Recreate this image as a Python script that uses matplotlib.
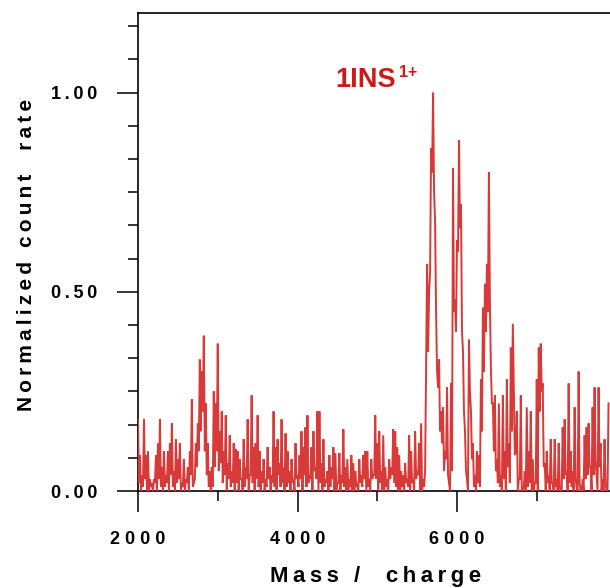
import numpy as np
import matplotlib
matplotlib.use('Agg')
import matplotlib.pyplot as plt
from matplotlib.ticker import FixedLocator, FixedFormatter

plt.rcParams['font.family'] = ['Liberation Sans', 'DejaVu Sans']
plt.rcParams['font.weight'] = 'bold'

# ---- data: spike maxima every 25 Da from 2000, minima read in between ----
mass_start = 2000
mass_step = 25
rate_peaks = [
    0.18, 0.09, 0.04, 0.18, 0.09, 0.10, 0.03, 0.02, 0.03, 0.09,
    0.12, 0.18, 0.06, 0.10, 0.04, 0.10, 0.12, 0.17, 0.05, 0.13,
    0.08, 0.12, 0.02, 0.08, 0.03, 0.06, 0.10, 0.23, 0.02, 0.12,
    0.17, 0.33, 0.30, 0.39, 0.22, 0.12, 0.05, 0.06, 0.25, 0.22,
    0.37, 0.15, 0.20, 0.10, 0.19, 0.07, 0.14, 0.05, 0.12, 0.105,
    0.10, 0.08, 0.03, 0.13, 0.06, 0.18, 0.04, 0.24, 0.11, 0.12,
    0.19, 0.10, 0.05, 0.08, 0.03, 0.11, 0.06, 0.04, 0.20, 0.11,
    0.13, 0.07, 0.18, 0.06, 0.145, 0.10, 0.05, 0.08, 0.03, 0.12,
    0.04, 0.09, 0.15, 0.11, 0.16, 0.19, 0.04, 0.11, 0.15, 0.06,
    0.20, 0.20, 0.07, 0.13, 0.03, 0.05, 0.09, 0.06, 0.11, 0.095,
    0.02, 0.095, 0.04, 0.155, 0.06, 0.08, 0.03, 0.09, 0.07, 0.05,
    0.02, 0.08, 0.04, 0.09, 0.10, 0.10, 0.03, 0.08, 0.04, 0.19,
    0.12, 0.15, 0.05, 0.14, 0.06, 0.03, 0.08, 0.06, 0.155, 0.15,
    0.11, 0.09, 0.05, 0.04, 0.07, 0.03, 0.14, 0.10, 0.03, 0.15,
    0.05, 0.12, 0.17, 0.03, 0.05, 0.57, 0.50, 0.86, 1.00, 0.68,
    0.30, 0.33, 0.20, 0.21, 0.10, 0.26, 0.02, 0.27, 0.81, 0.48,
    0.63, 0.88, 0.72, 0.35, 0.15, 0.03, 0.38, 0.20, 0.12, 0.04,
    0.10, 0.09, 0.28, 0.46, 0.52, 0.57, 0.80, 0.31, 0.22, 0.24,
    0.08, 0.22, 0.04, 0.24, 0.10, 0.28, 0.12, 0.36, 0.42, 0.09,
    0.20, 0.03, 0.24, 0.00, 0.05, 0.21, 0.10, 0.20, 0.08, 0.02,
    0.28, 0.36, 0.37, 0.27, 0.07, 0.10, 0.04, 0.13, 0.02, 0.13,
    0.03, 0.12, 0.00, 0.16, 0.18, 0.05, 0.27, 0.10, 0.05, 0.21,
    0.01, 0.30, 0.00, 0.03, 0.14, 0.16, 0.17, 0.06, 0.21, 0.26,
    0.04, 0.26, 0.12, 0.03, 0.13, 0.00, 0.22,
]
rate_troughs = [
    0.02, 0.00, 0.01, 0.03, 0.00, 0.00, 0.01, 0.00, 0.02, 0.00,
    0.03, 0.01, 0.00, 0.01, 0.02, 0.00, 0.04, 0.01, 0.00, 0.02,
    0.03, 0.00, 0.01, 0.00, 0.02, 0.00, 0.04, 0.01, 0.03, 0.06,
    0.10, 0.15,
    0.20, 0.10, 0.04, 0.01, 0.00, 0.01, 0.06, 0.10, 0.05, 0.07,
    0.02, 0.04, 0.00, 0.03, 0.01, 0.02, 0.00,
    0.02, 0.00, 0.03, 0.00, 0.01, 0.03, 0.00, 0.04, 0.02, 0.00,
    0.03, 0.01, 0.00, 0.02, 0.00, 0.01, 0.03, 0.00, 0.02, 0.01,
    0.00, 0.04, 0.01, 0.02, 0.00, 0.01, 0.02, 0.00, 0.02, 0.00,
    0.03, 0.01, 0.03, 0.00, 0.04, 0.01, 0.02, 0.03, 0.00, 0.05,
    0.03, 0.00, 0.02, 0.00, 0.01, 0.02, 0.00, 0.01, 0.03, 0.00,
    0.00, 0.02, 0.00, 0.02, 0.01, 0.00, 0.00, 0.01, 0.00, 0.00,
    0.01, 0.00, 0.02, 0.01, 0.03, 0.00, 0.01, 0.00, 0.03, 0.04,
    0.03, 0.00, 0.02, 0.00, 0.00, 0.01, 0.00, 0.03, 0.04, 0.02,
    0.01, 0.00, 0.00, 0.01, 0.00, 0.02, 0.01, 0.00, 0.02, 0.00,
    0.03, 0.04, 0.00, 0.00, 0.01,
    0.30, 0.35, 0.55, 0.80, 0.75, 0.45, 0.26, 0.15, 0.12, 0.05,
    0.08, 0.04, 0.00, 0.05, 0.45, 0.40, 0.60, 0.66, 0.40, 0.20,
    0.05, 0.00, 0.25, 0.08,
    0.01, 0.00, 0.02, 0.01, 0.15, 0.30, 0.40, 0.45, 0.48, 0.22,
    0.10, 0.05, 0.02, 0.01, 0.00, 0.03, 0.00, 0.06, 0.02, 0.15,
    0.25, 0.10, 0.00, 0.03, 0.00, 0.01, 0.00, 0.01, 0.02, 0.00,
    0.00, 0.02,
    0.00, 0.20, 0.25, 0.06, 0.00, 0.02, 0.00, 0.02, 0.00, 0.01,
    0.00, 0.01, 0.00, 0.03, 0.04, 0.00, 0.02, 0.01, 0.00, 0.03,
    0.00, 0.02, 0.00, 0.00, 0.03, 0.04, 0.06, 0.00, 0.04, 0.08,
    0.00, 0.06, 0.00, 0.00, 0.02, 0.00,
]
n_pts = len(rate_peaks) + len(rate_troughs)
mass = mass_start + (mass_step / 2) * np.arange(n_pts)
rate = np.empty(n_pts)
rate[0::2] = rate_peaks
rate[1::2] = rate_troughs

x_major = [2000, 4000, 6000]
x_minor = [3000, 5000, 7000]
x_labels = ['2000', '4000', '6000']
y_major = [0.0, 0.5, 1.0]
y_minor = [k / 12 for k in range(1, 15) if k not in (6, 12)]
y_labels = ['0.00', '0.50', '1.00']
x_title = 'Mass /  charge'
y_title = 'Normalized count  rate'
annot_main = '1INS'
annot_sup = '1+'

line_color = '#d83a3a'
text_red = '#cc1a1a'

W, H = 610, 588
fig = plt.figure(figsize=(W / 100, H / 100), dpi=100)
ax = fig.add_axes([138 / W, 97 / H, 472 / W, 478 / H])

ax.plot(mass, rate, color=line_color, lw=1.4, zorder=3, solid_joinstyle='miter')

ax.set_xlim(2000, 2000 + 472 / 0.07975)
ax.set_ylim(0, 1.2)

TS = '\u2009'

def spaced(s, sep):
    # letter-spaced text: characters joined by a thin space (spaces kept plain)
    out = ''
    for k, ch in enumerate(s):
        out += ch
        if k < len(s) - 1 and ch != ' ' and s[k + 1] != ' ':
            out += sep
    return out

ax.xaxis.set_major_locator(FixedLocator(x_major))
ax.xaxis.set_minor_locator(FixedLocator(x_minor))
ax.xaxis.set_major_formatter(FixedFormatter([spaced(s, ' ') for s in x_labels]))
ax.yaxis.set_major_locator(FixedLocator(y_major))
ax.yaxis.set_minor_locator(FixedLocator(y_minor))
ax.yaxis.set_major_formatter(FixedFormatter([spaced(s, TS) for s in y_labels]))

ax.tick_params(which='major', direction='out', length=15, width=1.1,
               labelsize=13, color='black')
ax.tick_params(axis='x', which='major', pad=13.5)
ax.tick_params(axis='y', which='major', pad=14)
ax.tick_params(which='minor', direction='out', length=7.5, width=1.1, color='black')

for sp in ['left', 'bottom', 'top']:
    ax.spines[sp].set_linewidth(1.2)
ax.spines['right'].set_visible(False)

fig.text(376 / W, 1 - 582 / H, spaced(x_title.replace(' ', ' ' + TS), TS), fontsize=16,
         ha='center', va='baseline', fontweight='bold')
fig.text(32 / W, 1 - 255 / H, spaced(y_title.replace(' ', ' ' + TS), TS), fontsize=15,
         ha='center', va='baseline', rotation=90, rotation_mode='anchor',
         fontweight='bold')

fig.text(335 / W, 1 - 87 / H, annot_main, fontsize=19.5, color=text_red,
         ha='left', va='baseline', fontweight='bold')
fig.text(399 / W, 1 - 77 / H, annot_sup, fontsize=11.5, color=text_red,
         ha='left', va='baseline', fontweight='bold')

fig.savefig('out.png', dpi=100)
